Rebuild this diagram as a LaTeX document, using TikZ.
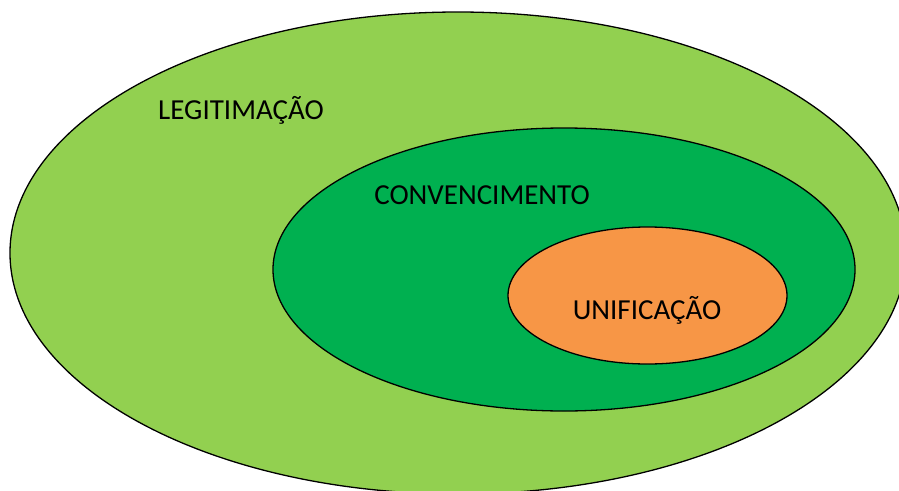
\documentclass[tikz,border=0pt]{standalone}
\usepackage{fontspec}
\setmainfont{Carlito}
\definecolor{lightgreen}{HTML}{92D050}
\definecolor{midgreen}{HTML}{00B050}
\definecolor{softorange}{HTML}{F79646}
\tikzset{
    layer/.style={draw=black, line width=1.3pt},
    layerlabel/.style={font=\fontsize{29}{34}\selectfont, text=black, inner sep=0pt}
}
\begin{document}
\begin{tikzpicture}[x=1pt, y=-1pt]
    \useasboundingbox (0,0) rectangle (899,490);
    \clip (0,0) rectangle (899,490);

    % Outer level
    \filldraw[layer, fill=lightgreen] (458,253) ellipse [x radius=448, y radius=241];
    \node[layerlabel] (legit) at (241,110) {LEGITIMAÇÃO};

    % Middle level
    \filldraw[layer, fill=midgreen] (564,269.5) ellipse [x radius=291, y radius=141.5];
    \node[layerlabel] (conv) at (482,195) {CONVENCIMENTO};

    % Inner level
    \filldraw[layer, fill=softorange] (647.5,295.5) ellipse [x radius=139.5, y radius=68.5];
    \node[layerlabel] (unif) at (647,310) {UNIFICAÇÃO};
\end{tikzpicture}
\end{document}
